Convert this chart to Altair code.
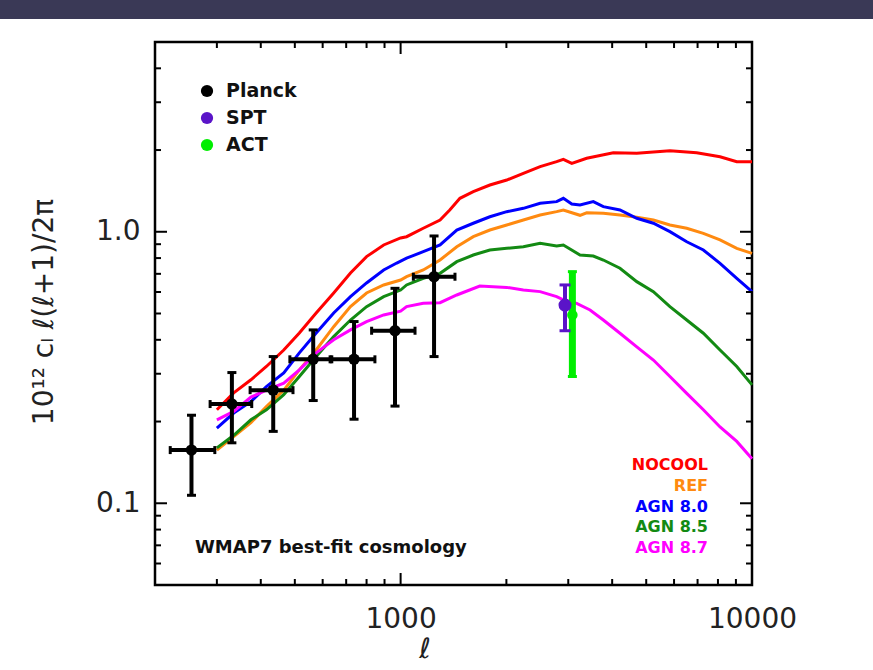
import altair as alt
import pandas as pd

# ---- simulated tSZ power spectra (10^12 C_l l(l+1)/2pi) ----
model_names = ["NOCOOL", "REF", "AGN 8.0", "AGN 8.5", "AGN 8.7"]
model_colors = ["#ff0000", "#ff8a10", "#0000ff", "#138a13", "#ff00ff"]

nocool_ell = [300, 335, 375, 415, 465, 515, 575, 645, 720, 800, 895, 1000, 1040, 1160, 1295,
              1380, 1475, 1610, 1795, 2005, 2235, 2495, 2780, 2905, 3070, 3385, 4030, 4700,
              5840, 6960, 8110, 9050, 10000]
nocool_val = [0.221, 0.255, 0.285, 0.319, 0.367, 0.424, 0.502, 0.595, 0.705, 0.810, 0.894, 0.949,
              0.959, 1.030, 1.105, 1.203, 1.328, 1.405, 1.487, 1.551, 1.642, 1.737, 1.812, 1.849,
              1.787, 1.865, 1.956, 1.946, 1.989, 1.956, 1.890, 1.812, 1.812]

ref_ell = [300, 335, 375, 415, 465, 515, 575, 645, 720, 800, 895, 1000, 1040, 1160, 1295, 1445,
           1610, 1795, 2005, 2235, 2495, 2780, 2905, 3240, 3385, 3775, 4210, 4700, 5240, 5840,
           6520, 7270, 8110, 9050, 10000]
ref_val = [0.157, 0.176, 0.198, 0.227, 0.261, 0.310, 0.367, 0.447, 0.530, 0.595, 0.637, 0.664,
           0.683, 0.723, 0.787, 0.881, 0.959, 1.015, 1.059, 1.105, 1.153, 1.186, 1.203, 1.150,
           1.175, 1.170, 1.153, 1.130, 1.105, 1.059, 1.030, 0.987, 0.933, 0.869, 0.833]

agn80_ell = [300, 335, 375, 415, 465, 515, 575, 645, 720, 800, 895, 975, 1040, 1160, 1295, 1445,
             1610, 1795, 2005, 2235, 2495, 2780, 2905, 3070, 3240, 3535, 3775, 4210, 4700, 5240,
             5840, 6520, 7270, 8110, 9050, 10000]
agn80_val = [0.189, 0.215, 0.237, 0.269, 0.302, 0.358, 0.424, 0.502, 0.577, 0.648, 0.723, 0.767,
             0.799, 0.845, 0.894, 1.015, 1.075, 1.136, 1.186, 1.220, 1.273, 1.291, 1.328, 1.266,
             1.255, 1.291, 1.237, 1.203, 1.121, 1.075, 1.001, 0.919, 0.857, 0.765, 0.674, 0.602]

agn85_ell = [300, 335, 375, 415, 465, 515, 575, 645, 720, 800, 895, 1000, 1040, 1160, 1295, 1445,
             1610, 1795, 2005, 2235, 2495, 2780, 2905, 3240, 3535, 3775, 4210, 4700, 5240, 5840,
             6520, 7270, 8110, 9050, 10000]
agn85_val = [0.160, 0.178, 0.203, 0.221, 0.251, 0.293, 0.347, 0.411, 0.473, 0.530, 0.577, 0.610,
             0.637, 0.674, 0.703, 0.776, 0.821, 0.857, 0.869, 0.881, 0.907, 0.886, 0.894, 0.821,
             0.814, 0.787, 0.734, 0.655, 0.602, 0.530, 0.473, 0.423, 0.367, 0.319, 0.273]

agn87_ell = [300, 335, 375, 415, 465, 515, 575, 645, 720, 800, 895, 1000, 1040, 1160, 1295, 1445,
             1680, 2005, 2235, 2495, 2780, 2905, 3170, 3460, 3775, 4210, 4700, 5240, 5840, 6520,
             7270, 8110, 9050, 10000]
agn87_val = [0.203, 0.218, 0.246, 0.261, 0.277, 0.310, 0.358, 0.400, 0.435, 0.467, 0.494, 0.510,
             0.530, 0.545, 0.548, 0.585, 0.631, 0.624, 0.610, 0.602, 0.577, 0.561, 0.545, 0.515,
             0.473, 0.423, 0.377, 0.337, 0.293, 0.254, 0.221, 0.191, 0.169, 0.146]

# ---- measurements ----
planck_ell = [254, 331, 434, 564, 737, 964, 1245]
planck_ell_lo = [221, 287, 373, 484, 630, 827, 1087]
planck_ell_hi = [296, 377, 494, 637, 845, 1099, 1428]
planck_val = [0.157, 0.232, 0.261, 0.339, 0.339, 0.432, 0.683]
planck_lo = [0.107, 0.167, 0.184, 0.239, 0.204, 0.228, 0.347]
planck_hi = [0.211, 0.303, 0.347, 0.435, 0.467, 0.619, 0.965]

spt_ell = [2937]
spt_val = [0.537]
spt_lo = [0.432]
spt_hi = [0.637]

act_ell = [3082]
act_val = [0.494]
act_lo = [0.293]
act_hi = [0.713]

# ---- tick positions ----
x_minor = [300, 400, 500, 600, 700, 800, 900, 2000, 3000, 4000, 5000, 6000, 7000, 8000, 9000]
x_major = [1000]
y_minor = [0.06, 0.07, 0.08, 0.09, 0.2, 0.3, 0.4, 0.5, 0.6, 0.7, 0.8, 0.9, 2, 3, 4]
y_major = [0.1, 1.0]

legend_names = ["Planck", "SPT", "ACT"]
legend_colors = ["#000000", "#5a14c8", "#00ee00"]

W, H = 597, 543
FONT = "DejaVu Sans"

x_scale = alt.Scale(type="log", domain=[200, 10000], nice=False)
y_scale = alt.Scale(type="log", domain=[0.05, 5], nice=False)
x_axis = alt.Axis(values=[1000, 10000], format="d", title=None, grid=False, domain=False,
                  ticks=False, tickSize=0, labelFont=FONT, labelFontSize=28,
                  labelColor="#222222", labelPadding=20, labelFlush=False, labelOverlap=False)
y_axis = alt.Axis(values=[0.1, 1.0], format=".1f", title=None, grid=False, domain=False,
                  ticks=False, tickSize=0, labelFont=FONT, labelFontSize=28,
                  labelColor="#222222", labelPadding=15, labelOverlap=False)


def X(field):
    return alt.X(f"{field}:Q", scale=x_scale, axis=x_axis)


def Y(field):
    return alt.Y(f"{field}:Q", scale=y_scale, axis=y_axis)


def one(label=""):
    return pd.DataFrame({"label": [label]})


layers = []

# dark header band above the panel
layers.append(
    alt.Chart(one()).mark_rect(color="#3a3956").encode(
        x=alt.value(-155), x2=alt.value(873 - 155), y=alt.value(-42), y2=alt.value(-23)
    )
)

# model curves
curve_sets = [(nocool_ell, nocool_val), (ref_ell, ref_val), (agn80_ell, agn80_val),
              (agn85_ell, agn85_val), (agn87_ell, agn87_val)]
rows = []
for name, (ells, vals) in zip(model_names, curve_sets):
    for i, (e, v) in enumerate(zip(ells, vals)):
        rows.append({"model": name, "ell": e, "val": v, "order": i})
curves = pd.DataFrame(rows)
layers.append(
    alt.Chart(curves).mark_line(strokeWidth=3).encode(
        x=X("ell"), y=Y("val"),
        color=alt.Color("model:N", scale=alt.Scale(domain=model_names, range=model_colors), legend=None),
        order="order:Q",
    )
)

# Planck band powers with error bars
planck = pd.DataFrame({"ell": planck_ell, "ell_lo": planck_ell_lo, "ell_hi": planck_ell_hi,
                       "val": planck_val, "lo": planck_lo, "hi": planck_hi})
layers += [
    alt.Chart(planck).mark_rule(color="black", strokeWidth=4).encode(x=X("ell"), y=Y("lo"), y2="hi"),
    alt.Chart(planck).mark_rule(color="black", strokeWidth=4).encode(x=X("ell_lo"), x2="ell_hi", y=Y("val")),
    alt.Chart(planck).mark_tick(color="black", orient="horizontal", size=9, thickness=3, opacity=1).encode(x=X("ell"), y=Y("lo")),
    alt.Chart(planck).mark_tick(color="black", orient="horizontal", size=9, thickness=3, opacity=1).encode(x=X("ell"), y=Y("hi")),
    alt.Chart(planck).mark_tick(color="black", orient="vertical", size=8, thickness=3, opacity=1).encode(x=X("ell_lo"), y=Y("val")),
    alt.Chart(planck).mark_tick(color="black", orient="vertical", size=8, thickness=3, opacity=1).encode(x=X("ell_hi"), y=Y("val")),
    alt.Chart(planck).mark_circle(color="black", size=130, opacity=1).encode(x=X("ell"), y=Y("val")),
]

# ACT point
act = pd.DataFrame({"ell": act_ell, "val": act_val, "lo": act_lo, "hi": act_hi})
act_c = legend_colors[2]
layers += [
    alt.Chart(act).mark_rule(color=act_c, strokeWidth=7).encode(x=X("ell"), y=Y("lo"), y2="hi"),
    alt.Chart(act).mark_tick(color=act_c, orient="horizontal", size=9, thickness=3, opacity=1).encode(x=X("ell"), y=Y("lo")),
    alt.Chart(act).mark_tick(color=act_c, orient="horizontal", size=9, thickness=3, opacity=1).encode(x=X("ell"), y=Y("hi")),
    alt.Chart(act).mark_circle(color=act_c, size=110, opacity=1).encode(x=X("ell"), y=Y("val")),
]

# SPT point
spt = pd.DataFrame({"ell": spt_ell, "val": spt_val, "lo": spt_lo, "hi": spt_hi})
spt_c = legend_colors[1]
layers += [
    alt.Chart(spt).mark_rule(color=spt_c, strokeWidth=4).encode(x=X("ell"), y=Y("lo"), y2="hi"),
    alt.Chart(spt).mark_tick(color=spt_c, orient="horizontal", size=11, thickness=3, opacity=1).encode(x=X("ell"), y=Y("lo")),
    alt.Chart(spt).mark_tick(color=spt_c, orient="horizontal", size=11, thickness=3, opacity=1).encode(x=X("ell"), y=Y("hi")),
    alt.Chart(spt).mark_circle(color=spt_c, size=170, opacity=1).encode(x=X("ell"), y=Y("val")),
]

# inward ticks on all four sides
xmin_df = pd.DataFrame({"t": x_minor})
xmaj_df = pd.DataFrame({"t": x_major})
ymin_df = pd.DataFrame({"t": y_minor})
ymaj_df = pd.DataFrame({"t": y_major})
for df, ln in ((xmin_df, 6), (xmaj_df, 12)):
    layers.append(alt.Chart(df).mark_rule(color="black", strokeWidth=2).encode(
        x=X("t"), y=alt.value(H), y2=alt.value(H - ln)))
    layers.append(alt.Chart(df).mark_rule(color="black", strokeWidth=2).encode(
        x=X("t"), y=alt.value(0), y2=alt.value(ln)))
for df, ln in ((ymin_df, 6), (ymaj_df, 12)):
    layers.append(alt.Chart(df).mark_rule(color="black", strokeWidth=2).encode(
        y=Y("t"), x=alt.value(0), x2=alt.value(ln)))
    layers.append(alt.Chart(df).mark_rule(color="black", strokeWidth=2).encode(
        y=Y("t"), x=alt.value(W), x2=alt.value(W - ln)))

# data legend (top left)
for i, (name, col) in enumerate(zip(legend_names, legend_colors)):
    yy = 49 + 27 * i
    layers.append(alt.Chart(one(name)).mark_circle(color=col, size=150, opacity=1).encode(
        x=alt.value(52), y=alt.value(yy)))
    layers.append(alt.Chart(one(name)).mark_text(
        align="left", baseline="middle", font=FONT, fontSize=19, fontWeight="bold", color="#111111"
    ).encode(x=alt.value(71), y=alt.value(yy), text="label:N"))

# model legend (bottom right)
for i, (name, col) in enumerate(zip(model_names, model_colors)):
    layers.append(alt.Chart(one(name)).mark_text(
        align="right", baseline="middle", font=FONT, fontSize=16, fontWeight="bold", color=col
    ).encode(x=alt.value(553), y=alt.value(423 + 20.8 * i), text="label:N"))

# cosmology note
layers.append(alt.Chart(one("WMAP7 best-fit cosmology")).mark_text(
    align="left", baseline="middle", font=FONT, fontSize=18, fontWeight="bold", color="#111111"
).encode(x=alt.value(40), y=alt.value(506), text="label:N"))

# axis titles
layers.append(alt.Chart(one("ℓ")).mark_text(
    align="center", baseline="middle", font=FONT, fontSize=28, fontStyle="italic", color="#222222"
).encode(x=alt.value(270), y=alt.value(608), text="label:N"))
layers.append(alt.Chart(one("10¹² cₗ ℓ(ℓ+1)/2π")).mark_text(
    align="center", baseline="middle", font=FONT, fontSize=28, angle=270, color="#222222"
).encode(x=alt.value(-110), y=alt.value(270), text="label:N"))

chart = alt.layer(*layers).properties(
    width=W, height=H,
    padding={"left": 155, "top": 42, "right": 873 - 155 - W, "bottom": 670 - 42 - H},
    autosize="none", background="white",
).configure_view(stroke="black", strokeWidth=2.5)

chart.save("out.html", embed_options={"renderer": "svg", "actions": False})
